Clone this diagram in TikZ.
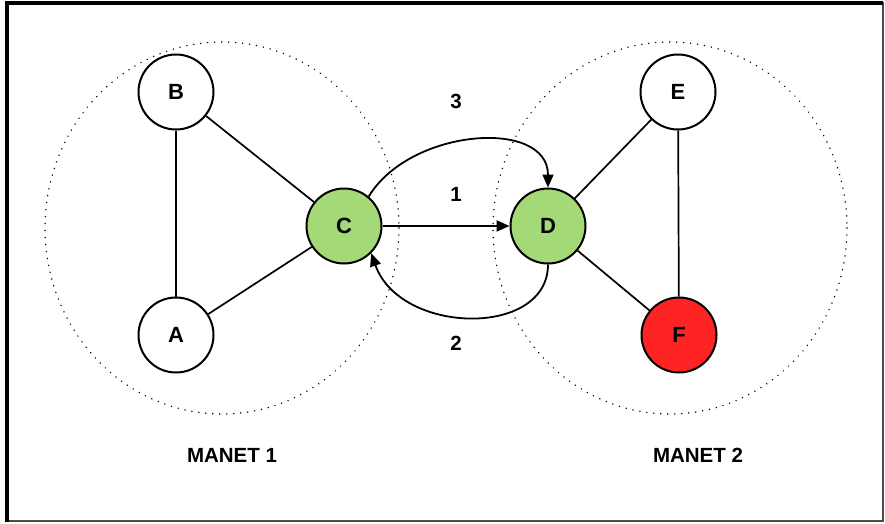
\documentclass[tikz,border=0pt]{standalone}
\usepackage{fontspec}
\setmainfont{Liberation Sans}
\usetikzlibrary{arrows.meta}
\definecolor{nodegreen}{HTML}{A3D977}
\definecolor{nodered}{HTML}{FF2424}
\tikzset{
  host/.style={circle, draw=black, line width=2pt, fill=white, minimum size=75pt,
    inner sep=0pt, font=\fontsize{22}{22}\selectfont\bfseries},
  relay/.style={host, fill=nodegreen},
  rogue/.style={host, fill=nodered},
  link/.style={line width=1.7pt},
  flow/.style={line width=1.8pt, -{Triangle[length=13pt,width=11pt]}},
  zone/.style={draw=black, line width=1.6pt, dash pattern=on 0.01pt off 7pt, line cap=round},
  tag/.style={font=\fontsize{20.5}{20.5}\selectfont\bfseries}
}
\begin{document}
\begin{tikzpicture}[x=1pt,y=-1pt]
  \useasboundingbox (0,0) rectangle (885,524);
  % frame
  \draw[line width=1.5pt, draw=black!70] (7,3) rectangle (883,521);
  \draw[line width=3.5pt] (7,522) -- (7,3) -- (883,3);

  % network ranges
  \draw[zone] (222,228) ellipse [x radius=177, y radius=186];
  \draw[zone] (670,228) ellipse [x radius=177, y radius=186];

  % hosts
  \node[host]  (B) at (176,92)  {B};
  \node[host]  (A) at (176,335) {A};
  \node[relay] (C) at (344,226) {C};
  \node[relay] (D) at (548,226) {D};
  \node[host]  (E) at (678,92)  {E};
  \node[rogue] (F) at (679,335) {F};

  % links inside each MANET
  \draw[link] (B) -- (A);
  \draw[link] (B) -- (C);
  \draw[link] (A) -- (C);
  \draw[link] (D) -- (E);
  \draw[link] (E) -- (F);
  \draw[link] (D) -- (F);

  % message flows between C and D
  \draw[flow] (C) -- (D);
  \draw[flow] (C.50) .. controls (410,128) and (548,118) .. (D.north);
  \draw[flow] (D.south) .. controls (548,338) and (400,335) .. (C.-45);

  % labels
  \node[tag] (n3) at (456,101) {3};
  \node[tag] (n1) at (456,194) {1};
  \node[tag] (n2) at (456,343) {2};
  \node[tag] (m1) at (232,455) {MANET 1};
  \node[tag] (m2) at (698,455) {MANET 2};
\end{tikzpicture}
\end{document}
